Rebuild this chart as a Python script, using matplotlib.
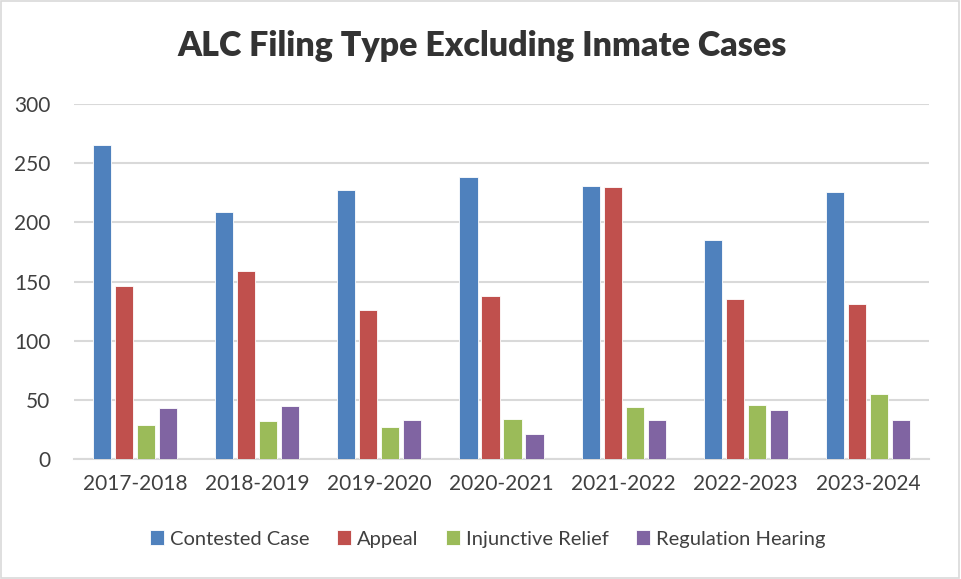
import numpy as np
import matplotlib.pyplot as plt
from matplotlib.patches import Rectangle

plt.rcParams['font.family'] = ['Lato', 'DejaVu Sans']

years = ['2017-2018', '2018-2019', '2019-2020', '2020-2021',
         '2021-2022', '2022-2023', '2023-2024']
contested = [265, 209, 227, 238, 231, 185, 226]
appeal = [146, 159, 126, 138, 230, 135, 131]
injunctive = [29, 32, 27, 34, 44, 46, 55]
regulation = [43, 45, 33, 21, 33, 41, 33]

series = [('Contested Case', contested, '#4F81BD'),
          ('Appeal', appeal, '#C0504D'),
          ('Injunctive Relief', injunctive, '#9BBB59'),
          ('Regulation Hearing', regulation, '#8064A2')]

fig = plt.figure(figsize=(9.61, 5.79), dpi=100)
ax = fig.add_axes([74/961, 1-459/579, 855/961, 355/579])

x = np.arange(len(years))
step = 0.18
w = 0.148
for i, (name, vals, col) in enumerate(series):
    ax.bar(x + (i - 1.5)*step, vals, w, color=col, label=name,
           edgecolor='white', linewidth=0.6, zorder=3)

ax.set_xlim(-0.5, len(years) - 0.5)
ax.set_ylim(0, 300)
ax.set_yticks(range(0, 301, 50))
ax.set_xticks(x)
ax.set_xticklabels(years)
ax.yaxis.grid(True, color='#D9D9D9', linewidth=1.5, zorder=0)
ax.set_axisbelow(True)
for s in ['top', 'right', 'left']:
    ax.spines[s].set_visible(False)
ax.spines['bottom'].set_color('#D9D9D9')
ax.spines['bottom'].set_linewidth(1.5)
ax.tick_params(axis='both', length=0, labelsize=15, colors='#404040')
ax.tick_params(axis='y', pad=17)
ax.tick_params(axis='x', pad=11)

fig.suptitle('ALC Filing Type Excluding Inmate Cases', x=482/961, y=1-46/579,
             va='center', fontsize=24.5, fontweight='heavy', color='#333333')

fig.legend(loc='center', bbox_to_anchor=(488/961, 1-539/579), ncol=4,
           frameon=False, fontsize=14.5, handlelength=0.7, handleheight=0.7,
           handletextpad=0.3, columnspacing=1.35, labelcolor='#404040')

fig.patches.append(Rectangle((0.001, 0.002), 0.997, 0.996, transform=fig.transFigure,
                             fill=False, edgecolor='#D9D9D9', linewidth=1.2))

fig.savefig('out.png', dpi=100)
